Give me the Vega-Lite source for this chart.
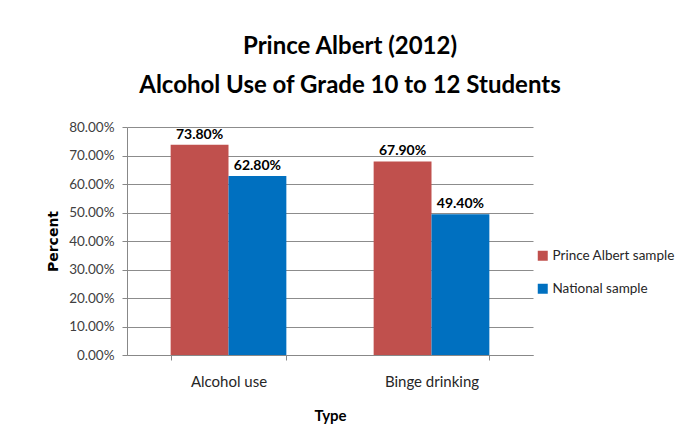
{
  "$schema": "https://vega.github.io/schema/vega-lite/v6.json",
  "autosize": {"type": "none"},
  "padding": {"left": 127, "top": 127, "right": 157, "bottom": 79},
  "width": 406,
  "height": 228,
  "background": "white",
  "title": {
    "text": ["Prince Albert (2012)", "Alcohol Use of Grade 10 to 12 Students"],
    "font": "Lato",
    "fontSize": 24,
    "fontWeight": "bold",
    "color": "#000000",
    "anchor": "middle",
    "dx": 20,
    "offset": 22,
    "lineHeight": 39
  },
  "data": {
    "values": [
      {"Type": "Alcohol use", "Series": "Prince Albert sample", "Value": 0.738},
      {"Type": "Alcohol use", "Series": "National sample", "Value": 0.628},
      {"Type": "Binge drinking", "Series": "Prince Albert sample", "Value": 0.679},
      {"Type": "Binge drinking", "Series": "National sample", "Value": 0.494}
    ]
  },
  "encoding": {
    "x": {
      "field": "Type",
      "type": "nominal",
      "sort": ["Alcohol use", "Binge drinking"],
      "title": "Type",
      "scale": {"paddingInner": 0.43, "paddingOuter": 0.215},
      "axis": {
        "labelAngle": 0,
        "labelFont": "Lato",
        "labelFontSize": 15,
        "labelColor": "#262626",
        "labelPadding": 14,
        "titleFont": "Lato",
        "titleFontSize": 15,
        "titleFontWeight": "bold",
        "titleColor": "#000000",
        "titlePadding": 19,
        "domainColor": "#888888",
        "tickColor": "#888888",
        "tickSize": 5,
        "tickBand": "extent",
        "ticks": true,
        "grid": false
      }
    },
    "xOffset": {
      "field": "Series",
      "type": "nominal",
      "sort": ["Prince Albert sample", "National sample"]
    },
    "y": {
      "field": "Value",
      "type": "quantitative",
      "title": "Percent",
      "scale": {"domain": [0, 0.8]},
      "axis": {
        "values": [0, 0.1, 0.2, 0.3, 0.4, 0.5, 0.6, 0.7, 0.8],
        "format": ".2%",
        "labelFont": "Lato",
        "labelFontSize": 13.5,
        "labelColor": "#404040",
        "labelPadding": 8,
        "tickSize": 5,
        "tickColor": "#888888",
        "domainColor": "#888888",
        "gridColor": "#8c8c8c",
        "gridWidth": 1,
        "titleFont": "DejaVu Sans",
        "titleFontSize": 14,
        "titleFontWeight": "bold",
        "titleColor": "#000000",
        "titlePadding": 8
      }
    },
    "color": {
      "field": "Series",
      "type": "nominal",
      "sort": ["Prince Albert sample", "National sample"],
      "scale": {"range": ["#C0504D", "#0070C0"]},
      "legend": {
        "title": null,
        "orient": "none",
        "legendX": 409,
        "legendY": 122,
        "symbolType": "square",
        "symbolSize": 100,
        "symbolStrokeWidth": 0,
        "labelFont": "Lato",
        "labelFontSize": 13.5,
        "labelColor": "#262626",
        "rowPadding": 18,
        "labelOffset": 3
      }
    }
  },
  "layer": [
    {"mark": {"type": "bar"}},
    {
      "mark": {"type": "text", "dy": -10, "font": "Lato", "fontSize": 14, "fontWeight": "bold"},
      "encoding": {
        "text": {"field": "Value", "type": "quantitative", "format": ".2%"},
        "color": {"value": "#000000"}
      }
    }
  ],
  "config": {"view": {"stroke": null}, "axis": {"domainWidth": 1}}
}
